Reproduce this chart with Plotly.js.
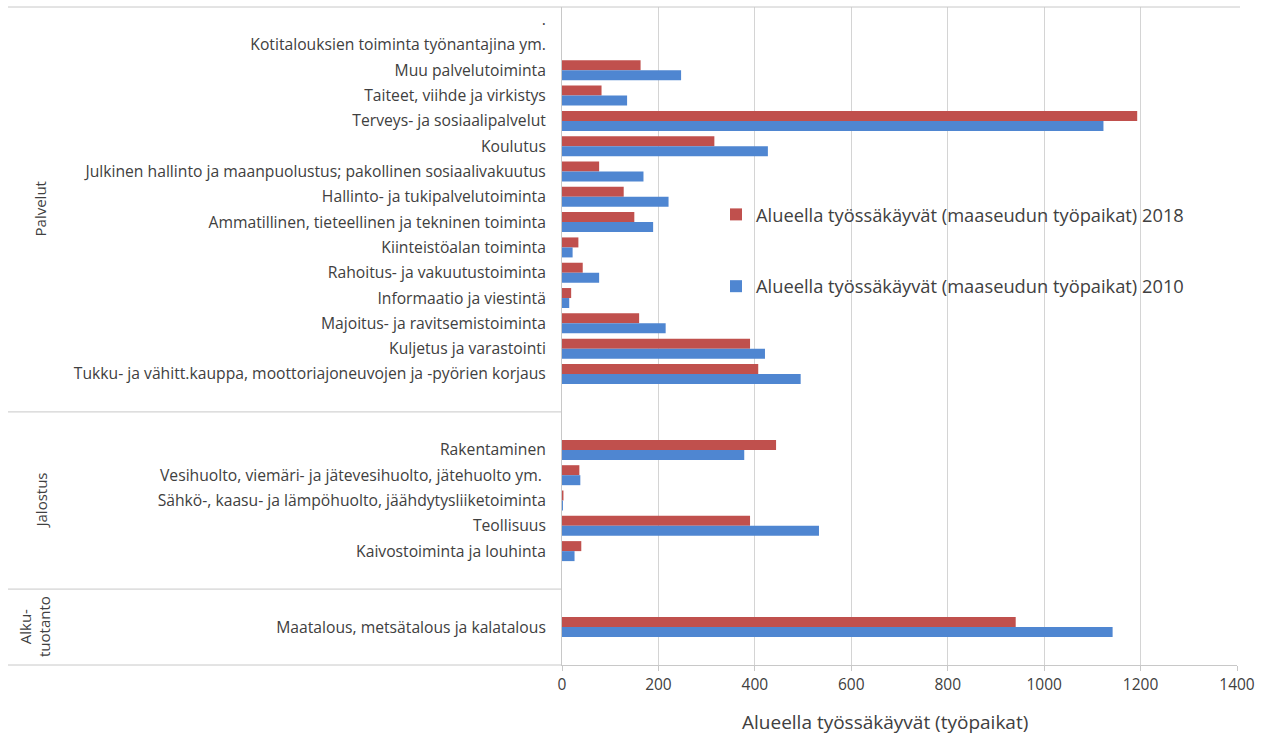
<!DOCTYPE html>
<html>
<head>
<meta charset="utf-8">
<script src="https://cdn.plot.ly/plotly-3.0.1.min.js"></script>
<style>html,body{margin:0;padding:0;background:#fff;}#chart{width:1266px;height:738px;}</style>
</head>
<body>
<div id="chart"></div>
<script>
// Categories, top to bottom (blank entries are empty rows of the original chart)
const categories = [
  ".",
  "Kotitalouksien toiminta työnantajina ym.",
  "Muu palvelutoiminta",
  "Taiteet, viihde ja virkistys",
  "Terveys- ja sosiaalipalvelut",
  "Koulutus",
  "Julkinen hallinto ja maanpuolustus; pakollinen sosiaalivakuutus",
  "Hallinto- ja tukipalvelutoiminta",
  "Ammatillinen, tieteellinen ja tekninen toiminta",
  "Kiinteistöalan toiminta",
  "Rahoitus- ja vakuutustoiminta",
  "Informaatio ja viestintä",
  "Majoitus- ja ravitsemistoiminta",
  "Kuljetus ja varastointi",
  "Tukku- ja vähitt.kauppa, moottoriajoneuvojen ja -pyörien korjaus",
  " ",
  "  ",
  "Rakentaminen",
  "Vesihuolto, viemäri- ja jätevesihuolto, jätehuolto ym. ",
  "Sähkö-, kaasu- ja lämpöhuolto, jäähdytysliiketoiminta",
  "Teollisuus",
  "Kaivostoiminta ja louhinta",
  "   ",
  "    ",
  "Maatalous, metsätalous ja kalatalous",
  "     "
];
const values2018 = [null, null, 163, 82, 1193, 316, 77, 128, 150, 34, 43, 19, 160, 390, 407, null, null, 444, 36, 3, 390, 40, null, null, 941, null];
const values2010 = [null, null, 247, 135, 1123, 427, 169, 221, 189, 22, 77, 15, 215, 421, 495, null, null, 378, 38, 2, 533, 26, null, null, 1142, null];
const seriesNames = ["Alueella työssäkäyvät (maaseudun työpaikat) 2018", "Alueella työssäkäyvät (maaseudun työpaikat) 2010"];
const groupNames = ["Palvelut", "Jalostus", "Alku-<br>tuotanto"];
const groupSizes = [16, 7, 3];
const xTicks = [0, 200, 400, 600, 800, 1000, 1200, 1400];
const xTitle = "Alueella työssäkäyvät (työpaikat)";

const FONT = "'Open Sans', Lato, sans-serif";
const TXT = "#404040";
const W = 1266, H = 738;
const M = {l: 562, r: 29, t: 7, b: 73};
const PW = W - M.l - M.r;
const PH = H - M.t - M.b;
const px2paperX = p => (p - M.l) / PW;
const px2paperY = p => 1 - (p - M.t) / PH;

const traces = [
  {type: "bar", orientation: "h", name: seriesNames[0], y: categories, x: values2018,
   marker: {color: "#C0504D"}, legendgroup: "a", hoverinfo: "x+y"},
  {type: "bar", orientation: "h", name: seriesNames[1], y: categories, x: values2010,
   marker: {color: "#4F86D1"}, legendgroup: "b", hoverinfo: "x+y"}
];

const shapes = [];
const annotations = [];
// top frame line
shapes.push({type: "line", xref: "paper", yref: "paper", x0: px2paperX(8), x1: px2paperX(1240), y0: 1, y1: 1,
  line: {color: "#c8c8c8", width: 1}});
// bottom line extending left under the labels
shapes.push({type: "line", xref: "paper", yref: "paper", x0: px2paperX(8), x1: 0, y0: 0, y1: 0,
  line: {color: "#c8c8c8", width: 1}});
// group separators and labels
let start = 0;
groupSizes.forEach((n, i) => {
  const end = start + n;
  if (i < groupSizes.length - 1) {
    shapes.push({type: "line", xref: "paper", yref: "y", x0: px2paperX(8), x1: 0, y0: end - 0.5, y1: end - 0.5,
      line: {color: "#c8c8c8", width: 1}});
  }
  annotations.push({xref: "paper", yref: "y", x: px2paperX(i === 2 ? 35 : 40), y: start + (n - 1) / 2,
    text: groupNames[i], textangle: -90, showarrow: false, xanchor: "center", yanchor: "middle",
    font: {family: FONT, size: 15, color: TXT}});
  start = end;
});
// white box behind the legend (covers gridlines, as in the original)
shapes.push({type: "rect", xref: "paper", yref: "paper", layer: "between",
  x0: px2paperX(722), x1: px2paperX(1200), y0: px2paperY(338), y1: px2paperY(178),
  fillcolor: "#ffffff", line: {width: 0}});
// x-axis title
annotations.push({xref: "paper", yref: "paper", x: px2paperX(885), y: px2paperY(722),
  text: xTitle, showarrow: false, xanchor: "center", yanchor: "middle",
  font: {family: FONT, size: 19, color: TXT}});

const layout = {
  width: W, height: H,
  margin: M,
  paper_bgcolor: "#fff", plot_bgcolor: "#fff",
  font: {family: FONT, color: TXT},
  barmode: "group",
  bargap: 0.21,
  bargroupgap: 0,
  showlegend: true,
  legend: {x: px2paperX(716), xanchor: "left", y: px2paperY(196), yanchor: "top",
    bgcolor: "rgba(255,255,255,0)", font: {family: FONT, size: 18.3, color: TXT},
    tracegroupgap: 45, traceorder: "grouped"},
  xaxis: {range: [0, 1400], tickvals: xTicks, ticktext: xTicks.map(String),
    showgrid: true, gridcolor: "#d4d4d4", gridwidth: 1,
    showline: true, linecolor: "#c8c8c8", linewidth: 1,
    ticks: "outside", ticklen: 5, tickcolor: "#c8c8c8",
    zeroline: false, tickfont: {family: FONT, size: 15.5, color: TXT}, fixedrange: true},
  yaxis: {type: "category", categoryorder: "array", categoryarray: categories,
    autorange: "reversed", showgrid: false, zeroline: false,
    showline: true, linecolor: "#c8c8c8", linewidth: 1, ticks: "",
    ticklabelstandoff: 12,
    tickfont: {family: FONT, size: 15.7, color: TXT}, fixedrange: true},
  shapes: shapes,
  annotations: annotations
};

Plotly.newPlot("chart", traces, layout, {displayModeBar: false, staticPlot: true});
</script>
</body>
</html>
